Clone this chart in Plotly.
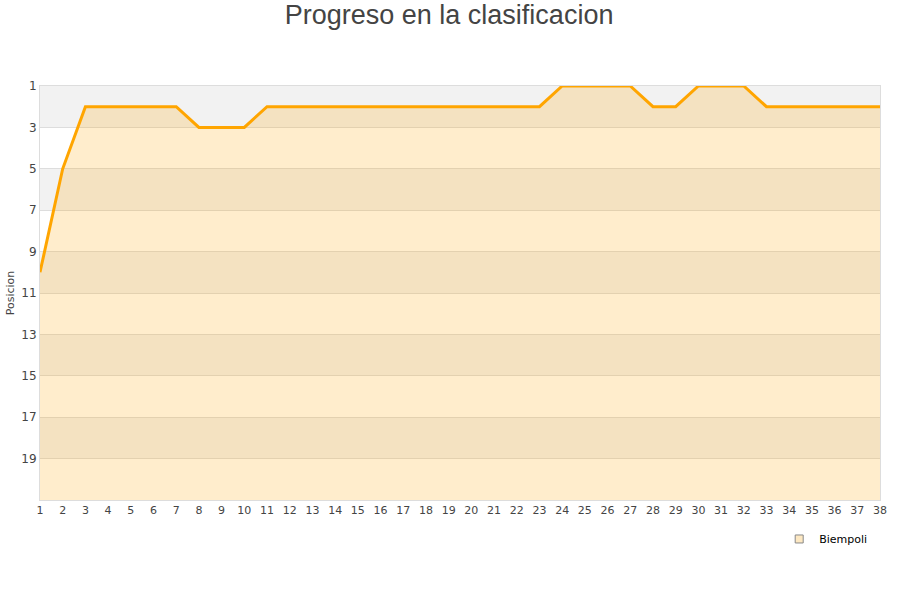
import plotly.graph_objects as go

jornadas = list(range(1, 39))
posiciones = [10, 5, 2, 2, 2, 2, 2, 3, 3, 3, 2, 2, 2, 2, 2, 2, 2, 2, 2, 2, 2, 2, 2,
              1, 1, 1, 1, 2, 2, 1, 1, 1, 2, 2, 2, 2, 2, 2]
equipo = "Biempoli"
y_ticks = [1, 3, 5, 7, 9, 11, 13, 15, 17, 19]
y_min, y_max = 1, 21

fig = go.Figure()
fig.add_trace(go.Scatter(x=jornadas, y=[y_max] * len(jornadas), mode="lines",
                         line=dict(width=0), showlegend=False, hoverinfo="skip"))
fig.add_trace(go.Scatter(x=jornadas, y=posiciones, mode="lines", name=equipo,
                         line=dict(color="#ffa500", width=3), showlegend=False,
                         fill="tonexty", fillcolor="rgba(255,165,0,0.2)"))
fig.add_trace(go.Scatter(x=[None], y=[None], mode="markers", name=equipo,
                         marker=dict(symbol="square", size=8, color="#fde8c2",
                                     line=dict(color="#888", width=1))))

shapes = []
for i, t in enumerate(y_ticks):
    if i % 2 == 0:
        shapes.append(dict(type="rect", xref="paper", yref="y", x0=0, x1=1,
                           y0=t, y1=t + 2, fillcolor="#f2f2f2", line=dict(width=0),
                           layer="below"))

fig.update_layout(
    width=900, height=600,
    title=dict(text="Progreso en la clasificacion", x=0.499, xanchor="center",
               y=0.975, yanchor="middle", yref="container",
               font=dict(family="Liberation Sans", size=27, color="#444")),
    paper_bgcolor="white", plot_bgcolor="white",
    margin=dict(l=40, r=20, t=86, b=100, autoexpand=False),
    shapes=shapes,
    font=dict(family="DejaVu Sans", size=11, color="#444"),
    legend=dict(x=0.88, y=0.1017, xref="paper", yref="container",
                xanchor="left", yanchor="middle",
                font=dict(size=11, color="#000"), bgcolor="rgba(0,0,0,0)",
                itemwidth=30),
    showlegend=True,
)
fig.update_xaxes(range=[1, 38], tickmode="array", tickvals=jornadas, automargin=False,
                 showgrid=False, showline=True, linecolor="#ddd", mirror=True,
                 zeroline=False, ticks="", tickfont=dict(size=11, color="#444"))
fig.update_yaxes(range=[y_max, y_min], tickmode="array", tickvals=y_ticks, automargin=False,
                 showgrid=True, gridcolor="#ddd", showline=True, linecolor="#ddd",
                 mirror=True, zeroline=False, ticks="",
                 title=dict(text="Posicion", font=dict(size=11, color="#444"), standoff=4),
                 tickfont=dict(size=12, color="#444"))

fig.write_html("out.html", config={"displayModeBar": False},
               post_script="document.body.style.margin='0';")
